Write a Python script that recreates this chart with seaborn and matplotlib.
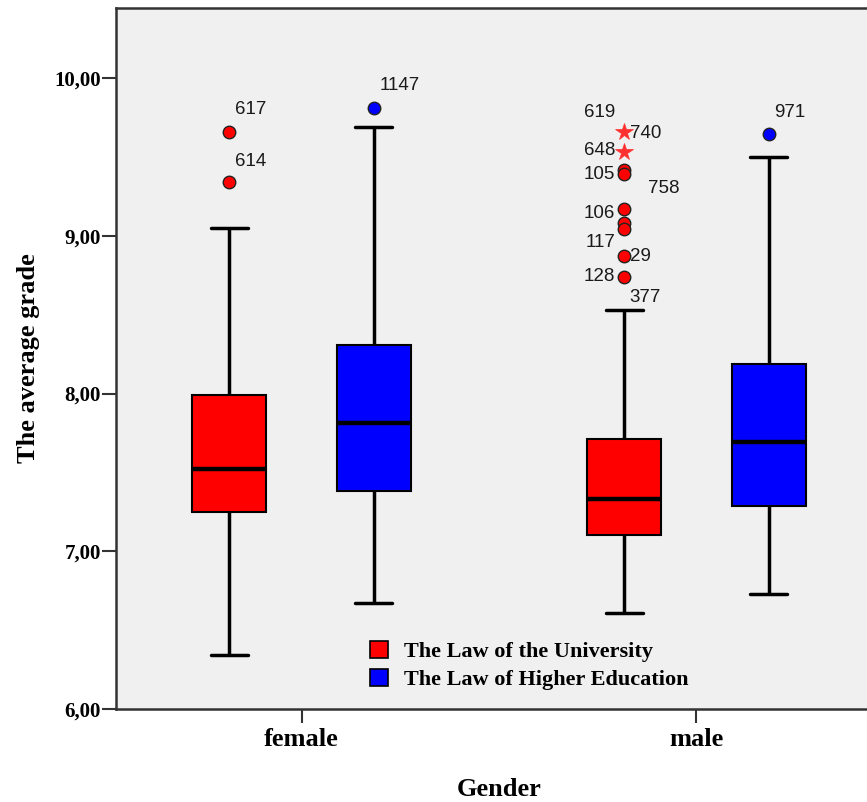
import matplotlib
matplotlib.use('Agg')
import matplotlib.pyplot as plt
from matplotlib.patches import Patch
from matplotlib.ticker import FuncFormatter
import pandas as pd
import seaborn as sns

# Categories
genders = ['female', 'male']
laws = ['The Law of the University', 'The Law of Higher Education']
law_colors = ['#ff0000', '#0000ff']

# Box summaries: low whisker, Q1, median, Q3, high whisker
box_female_univ = [6.34, 7.25, 7.52, 7.99, 9.05]
box_female_higher = [6.67, 7.38, 7.81, 8.31, 9.69]
box_male_univ = [6.61, 7.10, 7.33, 7.71, 8.53]
box_male_higher = [6.73, 7.29, 7.69, 8.19, 9.50]

# Outliers: gender, law, value, extreme (star) or not
out_gender = ['female', 'female', 'female', 'male',
              'male', 'male', 'male', 'male', 'male', 'male', 'male', 'male', 'male']
out_law = [0, 0, 1, 1, 0, 0, 0, 0, 0, 0, 0, 0, 0]
out_value = [9.66, 9.34, 9.81, 9.645,
             9.66, 9.53, 9.42, 9.39, 9.17, 9.08, 9.04, 8.87, 8.74]
out_extreme = [False, False, False, False,
               True, True, False, False, False, False, False, False, False]

# Case labels next to the outliers: gender, law, text, height, side
lab_gender = ['female', 'female', 'female', 'male',
              'male', 'male', 'male', 'male', 'male', 'male', 'male', 'male', 'male', 'male']
lab_law = [0, 0, 1, 1, 0, 0, 0, 0, 0, 0, 0, 0, 0, 0]
lab_text = ['617', '614', '1147', '971',
            '619', '740', '648', '105', '758', '106', '117', '29', '128', '377']
lab_value = [9.80, 9.47, 9.95, 9.78,
             9.78, 9.65, 9.54, 9.39, 9.30, 9.14, 8.96, 8.87, 8.74, 8.61]
lab_side = ['right', 'right', 'right', 'right',
            'left', 'right', 'left', 'left', 'far', 'left', 'left', 'right', 'left', 'right']

yticks = [6, 7, 8, 9, 10]

BOX_WIDTH = 0.732
GAP = 0.49

rows = []
for g, law, vals in [('female', laws[0], box_female_univ),
                     ('female', laws[1], box_female_higher),
                     ('male', laws[0], box_male_univ),
                     ('male', laws[1], box_male_higher)]:
    for v in vals:
        rows.append({'gender': g, 'law': law, 'grade': v})
df = pd.DataFrame(rows)

sns.set_theme(style='white')
plt.rcParams['font.family'] = ['Liberation Serif', 'DejaVu Serif']
plt.rcParams['text.color'] = 'black'
plt.rcParams['axes.labelcolor'] = 'black'
plt.rcParams['xtick.color'] = 'black'
plt.rcParams['ytick.color'] = 'black'

fig = plt.figure(figsize=(8.67, 8.02), dpi=100)
ax = fig.add_axes([116 / 867, 93 / 802, 766 / 867, 701 / 802])
ax.set_facecolor('#f0f0f0')

sns.boxplot(data=df, x='gender', y='grade', hue='law', order=genders,
            hue_order=laws, palette=law_colors, saturation=1,
            whis=(0, 100), showfliers=False, width=BOX_WIDTH, gap=GAP,
            linecolor='black', linewidth=1.5,
            medianprops=dict(linewidth=3.2),
            whiskerprops=dict(linewidth=2.5),
            capprops=dict(linewidth=2.5),
            ax=ax)

offset = BOX_WIDTH / 4
def xpos(g, law):
    return genders.index(g) + (-offset if law == 0 else offset)

for g, law, v, ext in zip(out_gender, out_law, out_value, out_extreme):
    if ext:
        ax.plot(xpos(g, law), v, marker='*', ms=13, color='#ff3030',
                mec='#ff3030', mew=0.5, zorder=5)
    else:
        ax.plot(xpos(g, law), v, marker='o', ms=9, mfc=law_colors[law],
                mec='#222222', mew=1.0, zorder=5)

for g, law, t, v, side in zip(lab_gender, lab_law, lab_text, lab_value, lab_side):
    if side == 'left':
        dx, ha = -6.5, 'right'
    elif side == 'far':
        dx, ha = 17, 'left'
    else:
        dx, ha = 4, 'left'
    ax.annotate(t, xy=(xpos(g, law), v), xytext=(dx, 0), textcoords='offset points',
                ha=ha, va='center', fontsize=13.5, color='#1a1a1a',
                family=['Liberation Sans', 'DejaVu Sans'])

ax.set_xlim(-0.47, 1.47)
ax.set_ylim(6, 10.444)
ax.set_yticks(yticks)
ax.yaxis.set_major_formatter(FuncFormatter(lambda v, p: f'{v:.2f}'.replace('.', ',')))

for side in ['left', 'top', 'bottom']:
    ax.spines[side].set_color('#333333')
    ax.spines[side].set_linewidth(1.8)
ax.spines['right'].set_visible(False)

ax.tick_params(axis='y', length=10, width=1.5, color='#333333', pad=1,
               labelsize=15, left=True)
ax.tick_params(axis='x', length=10, width=1.5, color='#333333', pad=4,
               labelsize=19, bottom=True)
for lbl in ax.get_yticklabels() + ax.get_xticklabels():
    lbl.set_fontweight('bold')

ax.set_xlabel('Gender', fontsize=19, fontweight='bold', labelpad=19)
ax.set_ylabel('The average grade', fontsize=19, fontweight='bold', labelpad=10)

if ax.get_legend() is not None:
    ax.get_legend().remove()
handles = [Patch(facecolor=c, edgecolor='black', linewidth=1.2) for c in law_colors]
ax.legend(handles, laws, loc='upper left', bbox_to_anchor=(0.331, 0.097),
          frameon=False, borderpad=0, borderaxespad=0, handlelength=0.81,
          handleheight=0.81, handletextpad=0.75, labelspacing=0.28,
          prop={'family': 'Liberation Serif', 'weight': 'bold', 'size': 16})

fig.savefig('out.png', dpi=100, facecolor='white')
